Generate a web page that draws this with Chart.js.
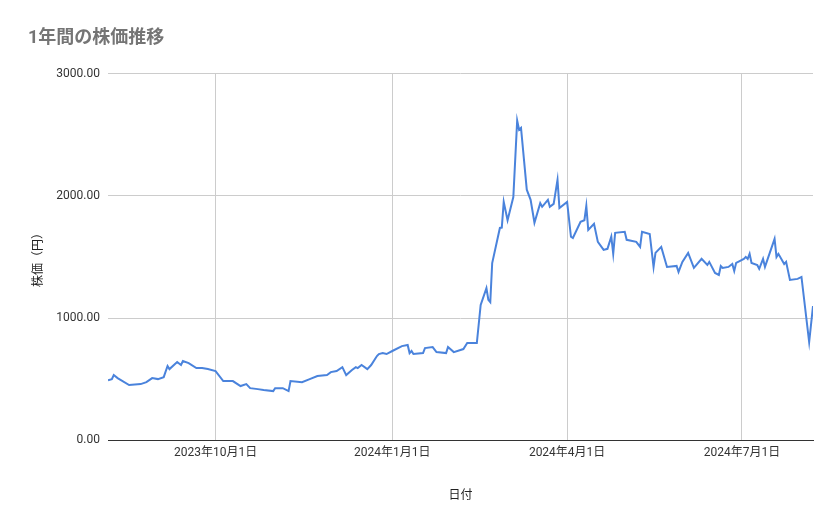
<!DOCTYPE html>
<html>
<head>
<meta charset="utf-8">
<script src="https://cdn.jsdelivr.net/npm/chart.js@4/dist/chart.umd.min.js"></script>
<style>
  body { margin: 0; background: #fff; }
  canvas { display: block; }
</style>
</head>
<body>
<canvas id="chart" width="839" height="519"></canvas>
<script>
// Price history
var dates = [
	'2023-08-06','2023-08-08','2023-08-09','2023-08-11','2023-08-17','2023-08-23','2023-08-26','2023-08-29',
	'2023-09-01','2023-09-04','2023-09-06','2023-09-07','2023-09-11','2023-09-13','2023-09-14','2023-09-17',
	'2023-09-21','2023-09-24','2023-09-27','2023-10-01','2023-10-05','2023-10-10','2023-10-14','2023-10-17',
	'2023-10-19','2023-10-23','2023-10-26','2023-10-31','2023-11-01','2023-11-05','2023-11-08','2023-11-09',
	'2023-11-15','2023-11-19','2023-11-23','2023-11-28','2023-11-30','2023-12-03','2023-12-06','2023-12-08',
	'2023-12-11','2023-12-13','2023-12-14','2023-12-16','2023-12-19','2023-12-21','2023-12-24','2023-12-25',
	'2023-12-27','2023-12-29','2024-01-01','2024-01-06','2024-01-09','2024-01-10','2024-01-11','2024-01-12',
	'2024-01-17','2024-01-18','2024-01-22','2024-01-24','2024-01-29','2024-01-30','2024-02-02','2024-02-07',
	'2024-02-09','2024-02-14','2024-02-16','2024-02-19','2024-02-20','2024-02-21','2024-02-22','2024-02-26',
	'2024-02-27','2024-02-28','2024-03-01','2024-03-04','2024-03-06','2024-03-07','2024-03-08','2024-03-11',
	'2024-03-13','2024-03-15','2024-03-18','2024-03-19','2024-03-22','2024-03-23','2024-03-25','2024-03-27',
	'2024-03-28','2024-04-01','2024-04-03','2024-04-04','2024-04-08','2024-04-10','2024-04-11','2024-04-12',
	'2024-04-15','2024-04-17','2024-04-20','2024-04-22','2024-04-24','2024-04-25','2024-04-26','2024-05-01',
	'2024-05-02','2024-05-07','2024-05-09','2024-05-10','2024-05-14','2024-05-16','2024-05-17','2024-05-20',
	'2024-05-23','2024-05-28','2024-05-29','2024-05-31','2024-06-03','2024-06-06','2024-06-10','2024-06-13',
	'2024-06-14','2024-06-17','2024-06-19','2024-06-20','2024-06-21','2024-06-24','2024-06-26','2024-06-27',
	'2024-06-28','2024-07-02','2024-07-03','2024-07-04','2024-07-05','2024-07-06','2024-07-09','2024-07-10',
	'2024-07-12','2024-07-13','2024-07-18','2024-07-19','2024-07-20','2024-07-23','2024-07-24','2024-07-26',
	'2024-07-30','2024-08-01','2024-08-05','2024-08-07'
];
var prices = [
	490,500,533,508,451,459,475,508,
	500,516,607,582,640,615,648,631,
	590,590,582,566,484,484,443,459,
	426,418,410,402,426,426,402,484,
	475,500,525,533,557,566,598,533,
	574,598,590,615,582,615,689,705,
	713,705,730,770,779,713,730,705,
	713,754,762,721,713,762,721,746,
	795,795,1107,1245,1148,1130,1450,1737,
	1740,1950,1800,1990,2615,2540,2555,2050,
	1967,1780,1940,1910,1967,1910,1934,2130,
	1900,1950,1665,1655,1787,1800,1918,1721,
	1770,1623,1557,1566,1666,1525,1697,1705,
	1640,1623,1582,1705,1688,1418,1533,1582,
	1418,1426,1377,1459,1533,1410,1484,1434,
	1459,1369,1352,1426,1410,1418,1442,1385,
	1451,1484,1500,1484,1525,1451,1434,1402,
	1484,1418,1648,1500,1525,1442,1459,1311,
	1320,1336,803,1098
];
var xTickDates = ['2023-10-01','2024-01-01','2024-04-01','2024-07-01'];
var yTicks = [0, 1000, 2000, 3000];

function toTime(s) {
	var p = s.split('-');
	return Date.UTC(+p[0], +p[1] - 1, +p[2]);
}

var points = [];
for (var i = 0; i < dates.length; i++) {
	points.push({ x: toTime(dates[i]), y: prices[i] });
}

var font = "Roboto, 'Noto Sans CJK JP', sans-serif";

var ctx = document.getElementById('chart').getContext('2d');
var chart = new Chart(ctx, {
	type: 'line',
	data: {
		datasets: [{
			data: points,
			borderColor: '#4a83dc',
			borderWidth: 2,
			pointRadius: 0,
			tension: 0,
			fill: false
		}]
	},
	options: {
		responsive: false,
		animation: false,
		layout: { padding: { left: 28, right: 26, top: 0, bottom: 12 } },
		plugins: {
			legend: { display: false },
			tooltip: { enabled: false },
			title: {
				display: true,
				text: '1年間の株価推移',
				align: 'start',
				color: '#757575',
				font: { family: font, size: 18 },
				padding: { top: 28, bottom: 24 }
			}
		},
		scales: {
			x: {
				type: 'linear',
				min: toTime(dates[0]),
				max: toTime(dates[dates.length - 1]),
				afterBuildTicks: function(scale) {
					scale.ticks = xTickDates.map(function(d) { return { value: toTime(d) }; });
				},
				ticks: {
					color: '#333',
					font: { family: font, size: 12 },
					maxRotation: 0,
					padding: 6,
					callback: function(v) {
						var d = new Date(v);
						return d.getUTCFullYear() + '年' + (d.getUTCMonth() + 1) + '月' + d.getUTCDate() + '日';
					}
				},
				grid: { color: '#cccccc', drawTicks: false },
				border: { color: '#333', width: 1 },
				title: {
					display: true,
					text: '日付',
					color: '#222',
					font: { family: font, size: 12 },
					padding: { top: 22 }
				}
			},
			y: {
				min: 0,
				max: 3000,
				afterBuildTicks: function(scale) {
					scale.ticks = yTicks.map(function(v) { return { value: v }; });
				},
				afterFit: function(scale) { scale.width = 80; },
				ticks: {
					color: '#333',
					font: { family: font, size: 12 },
					padding: 8,
					callback: function(v) { return v.toFixed(2); }
				},
				grid: { color: '#cccccc', drawTicks: false },
				border: { display: false },
				title: {
					display: true,
					text: '株価（円）',
					color: '#222',
					font: { family: font, size: 12 },
					padding: { bottom: 4 }
				}
			}
		}
	}
});
</script>
</body>
</html>
